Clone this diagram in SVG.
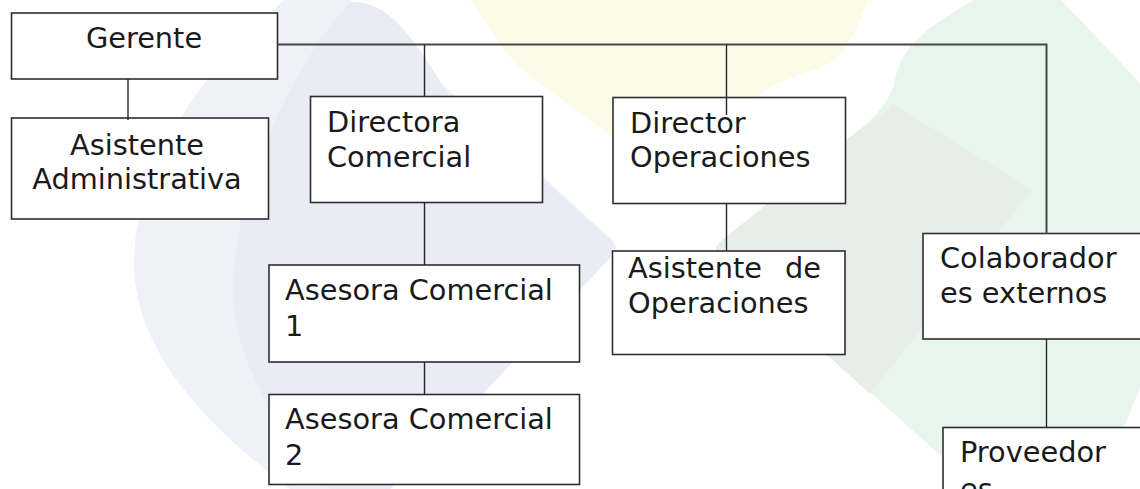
<svg xmlns="http://www.w3.org/2000/svg" width="1140" height="489" viewBox="0 0 1140 489">
  <style>
    .box { fill: #ffffff; stroke: #2e2e2e; stroke-width: 1.6; }
    .lbl { font-family: "DejaVu Sans", "Noto Sans", sans-serif; font-size: 28.8px; fill: #1a1a1a; }
    .mid { text-anchor: middle; }
    .bus { fill: none; stroke: #474747; stroke-width: 2; }
    .link { fill: none; stroke: #262626; stroke-width: 1.4; }
  </style>
  <rect x="0" y="0" width="1140" height="489" fill="#ffffff"/>
  <g id="background">
    <path d="M 285,0 L 350,0 L 612,240 Q 620,248 612,256 L 380,489 L 290,489 C 200,420 136,350 134,265 C 134,170 200,70 285,0 Z" fill="#eff1f8"/>
    <path d="M 350,2 C 385,0 410,30 447,93 L 610,240 Q 618,248 610,258 L 440,440 L 390,489 L 330,489 C 290,440 240,380 233,300 C 228,200 295,60 350,2 Z" fill="#e9ecf5"/>
    <path d="M 470,0 L 868,0 C 852,40 845,60 815,70 C 790,78 772,84 757,96 L 680,165 Q 665,178 650,165 L 525,72 C 505,55 495,35 470,0 Z" fill="#fcfbe8"/>
    <path d="M 974,0 L 1061,0 L 1140,83 L 1140,388 L 1098,489 L 978,489 L 720,258 Q 712,250 720,242 L 846,140 C 880,115 890,100 895,80 C 902,45 930,25 974,0 Z" fill="#e7f5ec"/>
    <path d="M 720,258 Q 712,250 720,242 L 846,140 C 870,122 885,114 893,104 L 1032,190 L 870,394 Z" fill="#e7eee9"/>
  </g>
  <g id="node-gerente">
    <rect class="box" x="11.5" y="13" width="266" height="66"/>
    <text class="lbl mid" x="144" y="48">Gerente</text>
  </g>
  <g id="node-asistente-administrativa">
    <rect class="box" x="11.5" y="118" width="257" height="101"/>
    <text class="lbl mid" x="137" y="155">Asistente</text>
    <text class="lbl mid" x="137" y="189">Administrativa</text>
  </g>
  <g id="node-directora-comercial">
    <rect class="box" x="310.5" y="96.5" width="232" height="106"/>
    <text class="lbl" x="327" y="132">Directora</text>
    <text class="lbl" x="327" y="167">Comercial</text>
  </g>
  <g id="node-director-operaciones">
    <rect class="box" x="613" y="97.5" width="232.5" height="106"/>
    <text class="lbl" x="630" y="133">Director</text>
    <text class="lbl" x="630" y="167">Operaciones</text>
  </g>
  <g id="node-asesora-comercial-1">
    <rect class="box" x="269" y="265" width="310.5" height="97"/>
    <text class="lbl" x="285" y="300">Asesora Comercial</text>
    <text class="lbl" x="285" y="336">1</text>
  </g>
  <g id="node-asesora-comercial-2">
    <rect class="box" x="269" y="394.5" width="310.5" height="90"/>
    <text class="lbl" x="285" y="429">Asesora Comercial</text>
    <text class="lbl" x="285" y="465">2</text>
  </g>
  <g id="node-asistente-operaciones">
    <rect class="box" x="612.5" y="251" width="232.5" height="103.5"/>
    <text class="lbl" x="628" y="278">Asistente</text>
    <text class="lbl" x="821" y="278" text-anchor="end">de</text>
    <text class="lbl" x="628" y="313">Operaciones</text>
  </g>
  <g id="node-colaboradores-externos">
    <rect class="box" x="923" y="233.5" width="240" height="105.5"/>
    <text class="lbl" x="940" y="268">Colaborador</text>
    <text class="lbl" x="940" y="303">es externos</text>
  </g>
  <g id="node-proveedor">
    <rect class="box" x="943" y="427.5" width="220" height="90"/>
    <text class="lbl" x="960" y="462">Proveedor</text>
    <text class="lbl" x="960" y="499">es</text>
  </g>
  <g id="connectors">
    <path class="bus" d="M 277.5,44.5 H 1046.5 V 233.5"/>
    <path class="link" d="M 424.5,44.5 V 96.5"/>
    <path class="link" d="M 726.5,44.5 V 115"/>
    <path class="link" d="M 128,79 V 120"/>
    <path class="link" d="M 424.5,202.5 V 265"/>
    <path class="link" d="M 424.5,362 V 394.5"/>
    <path class="link" d="M 726.5,203.5 V 251"/>
    <path class="link" d="M 1046.5,339 V 427.5"/>
  </g>
</svg>
